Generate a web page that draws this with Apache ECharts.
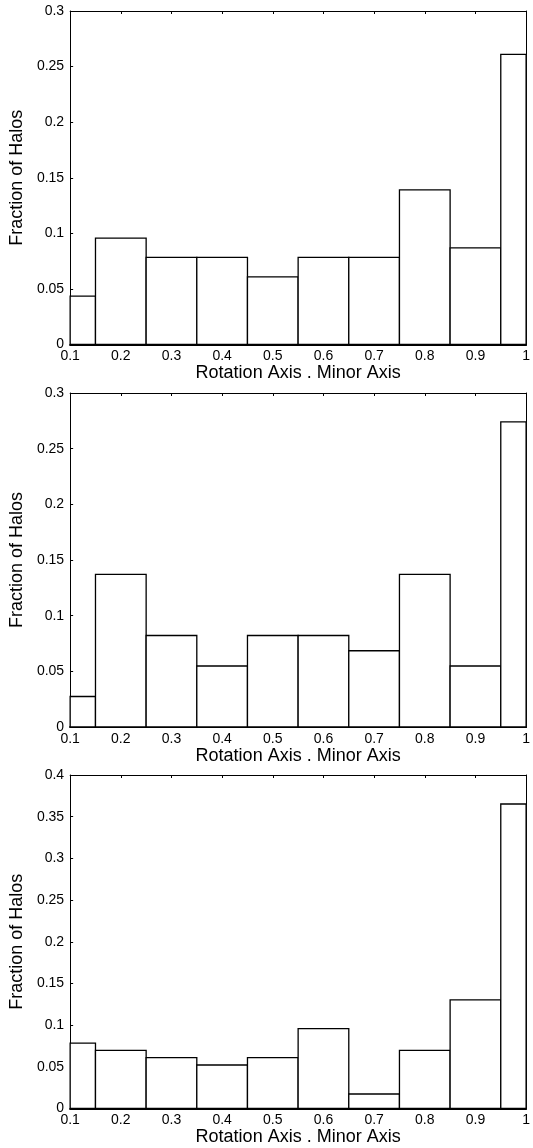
<!DOCTYPE html>
<html>
<head>
<meta charset="utf-8">
<script src="https://cdn.jsdelivr.net/npm/echarts@6/dist/echarts.min.js"></script>
<style>
html,body{margin:0;padding:0;background:#fff;}
#chart{width:533px;height:1148px;}
</style>
</head>
<body>
<div id="chart"></div>
<script>
// Bin edges of the histogram (x axis: Rotation Axis . Minor Axis)
const binEdges = [0.1, 0.15, 0.25, 0.35, 0.45, 0.55, 0.65, 0.75, 0.85, 0.95, 1.0];
// Fraction of halos per bin, panel by panel
const panel1Values = [0.0435, 0.0957, 0.0783, 0.0783, 0.0609, 0.0783, 0.0783, 0.1391, 0.0870, 0.2609];
const panel2Values = [0.0274, 0.1370, 0.0822, 0.0548, 0.0822, 0.0822, 0.0685, 0.1370, 0.0548, 0.2740];
const panel3Values = [0.0783, 0.0696, 0.0609, 0.0522, 0.0609, 0.0957, 0.0174, 0.0696, 0.1304, 0.3652];
const yMaxes = [0.3, 0.3, 0.4];
const xTitle = 'Rotation Axis . Minor Axis';
const yTitle = 'Fraction of Halos';

const panels = [panel1Values, panel2Values, panel3Values];
const FONT = '"Liberation Sans", Arial, Helvetica, sans-serif';
const gridBoxes = [
  {left: 68, right: 3, top: 11, height: 333.5},
  {left: 68, right: 3, top: 393, height: 334},
  {left: 68, right: 3, top: 775, height: 333.5}
];

const grid = [], xAxis = [], yAxis = [], series = [];
panels.forEach((vals, i) => {
  grid.push(Object.assign({containLabel: false}, gridBoxes[i]));
  const xBase = {
    gridIndex: i, type: 'value', min: 0.1, max: 1, interval: 0.1,
    splitLine: {show: false},
    axisTick: {show: true, inside: true, length: 3, lineStyle: {color: '#000', width: 1}}
  };
  xAxis.push(Object.assign({}, xBase, {
    position: 'bottom',
    axisLine: {show: true, onZero: false, lineStyle: {color: '#000', width: 2}},
    axisLabel: {show: true, color: '#000', fontSize: 14, fontFamily: FONT, margin: 5,
      formatter: v => String(+v.toFixed(2))},
    name: xTitle, nameLocation: 'middle', nameGap: 19,
    nameTextStyle: {color: '#000', fontSize: 18, fontFamily: FONT}
  }));
  xAxis.push(Object.assign({}, xBase, {
    position: 'top',
    axisLine: {show: true, onZero: false, lineStyle: {color: '#000', width: 1}},
    axisLabel: {show: false}
  }));
  const yBase = {
    gridIndex: i, type: 'value', min: 0, max: yMaxes[i], interval: 0.05,
    splitLine: {show: false},
    axisTick: {show: true, inside: true, length: 3, lineStyle: {color: '#000', width: 1}}
  };
  yAxis.push(Object.assign({}, yBase, {
    position: 'left',
    axisLine: {show: true, onZero: false, lineStyle: {color: '#000', width: 1}},
    axisLabel: {show: true, color: '#000', fontSize: 14, fontFamily: FONT, margin: 6,
      formatter: v => String(+v.toFixed(2))},
    name: yTitle, nameLocation: 'middle', nameGap: 37, nameRotate: 90,
    nameTextStyle: {color: '#000', fontSize: 18, fontFamily: FONT}
  }));
  yAxis.push(Object.assign({}, yBase, {
    position: 'right',
    axisLine: {show: true, onZero: false, lineStyle: {color: '#000', width: 1}},
    axisLabel: {show: false}
  }));
  const data = vals.map((v, k) => [binEdges[k], binEdges[k + 1], v]);
  series.push({
    type: 'custom',
    xAxisIndex: i * 2,
    yAxisIndex: i * 2,
    data: data,
    encode: {x: [0, 1], y: 2},
    renderItem: function (params, api) {
      const x0 = api.value(0), x1 = api.value(1), v = api.value(2);
      const pTop = api.coord([x0, v]);
      const pBot = api.coord([x1, 0]);
      return {
        type: 'rect',
        shape: {x: pTop[0], y: pTop[1], width: pBot[0] - pTop[0], height: pBot[1] - pTop[1]},
        style: {fill: '#fff', stroke: '#000', lineWidth: 1.3}
      };
    },
    z: 1
  });
});

const chart = echarts.init(document.getElementById('chart'), null, {renderer: 'canvas'});
chart.setOption({
  animation: false,
  backgroundColor: '#fff',
  grid: grid,
  xAxis: xAxis,
  yAxis: yAxis,
  series: series
});
</script>
</body>
</html>
